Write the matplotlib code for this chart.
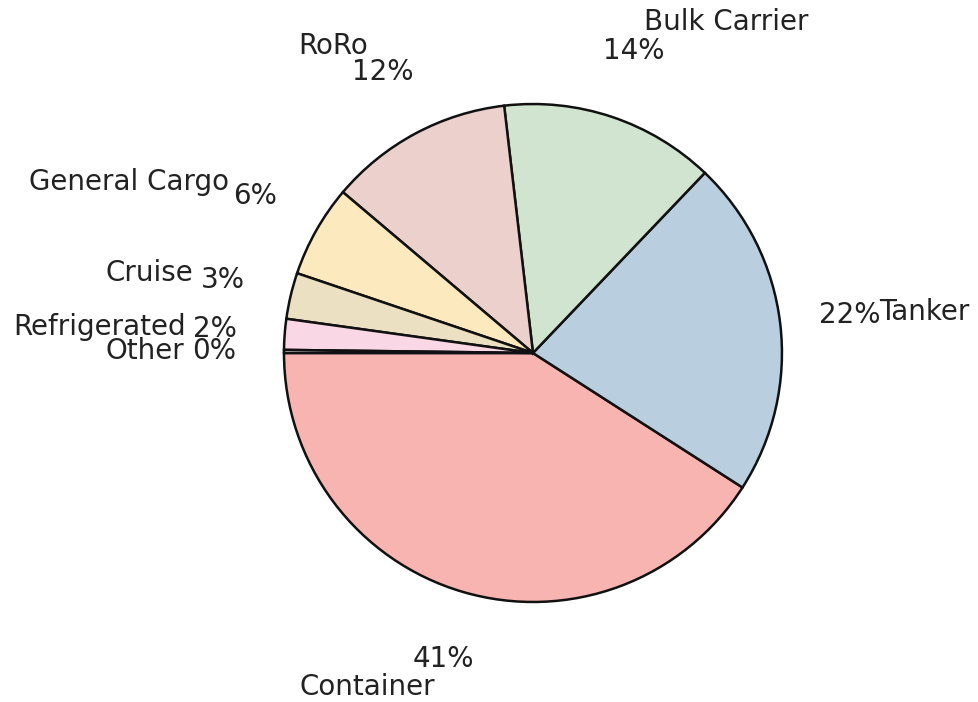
import matplotlib
matplotlib.use("Agg")
import matplotlib.pyplot as plt

# Share of ship types (percent)
ship_types = ['Container', 'Tanker', 'Bulk Carrier', 'RoRo', 'General Cargo',
              'Cruise', 'Refrigerated', 'Other']
shares = [41, 22, 14, 12, 6, 3, 2, 0.2]
colors = ['#f8b4b0', '#b9cfe0', '#d1e4cf', '#ecd0cb', '#fde9be',
          '#ece0c3', '#f9d7e4', '#f2f2f2']

fig = plt.figure(figsize=(4.895, 3.51), dpi=200)
ax = fig.add_axes([0.2265, 0.0538, 0.6358, 0.8867])

ax.pie(shares, labels=ship_types, colors=colors, autopct='%1.0f%%',
       startangle=180, labeldistance=1.4, pctdistance=1.28,
       wedgeprops={'edgecolor': '#111111', 'linewidth': 0.9},
       textprops={'fontsize': 10, 'color': '#222222'})
ax.set_xlim(-1.25, 1.25)
ax.set_ylim(-1.25, 1.25)
ax.set_aspect('equal')

fig.savefig('out.png', dpi=200)
